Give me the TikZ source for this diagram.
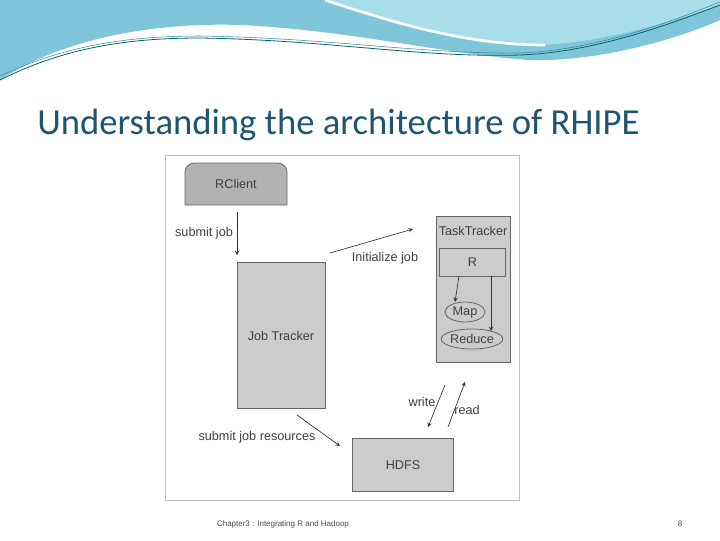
\documentclass[tikz,border=0pt]{standalone}
\usepackage{fontspec}
\usetikzlibrary{shapes.geometric}
\setmainfont{Carlito}
\newfontfamily\diag{Liberation Sans}
\definecolor{wavea}{HTML}{7FC6DA}
\definecolor{waveb}{HTML}{A8DEEA}
\definecolor{titlec}{HTML}{1F5573}
\begin{document}
\begin{tikzpicture}[x=0.75pt,y=-0.75pt,
  box/.style={draw=black!60,fill=black!20,line width=0.6pt,inner sep=0pt,text=black!75,font=\diag\fontsize{9.5}{10}\selectfont},
  lab/.style={font=\diag\fontsize{9.5}{10}\selectfont,text=black!75},
  arr/.style={->,line width=0.5pt,black!80,>=stealth}]
\useasboundingbox (0,0) rectangle (720,540);
\fill[white] (0,0) rectangle (720,540);
% header waves
\fill[wavea] (0,0) -- (0,80) .. controls (60,40) and (150,22) .. (240,25) .. controls (350,30) and (450,55) .. (530,60) .. controls (600,62) and (680,38) .. (720,20) -- (720,0) -- cycle;
\fill[waveb] (325,0) .. controls (400,25) and (470,45) .. (545,45) .. controls (620,40) and (690,15) .. (720,5) -- (720,0) -- cycle;
\draw[white,line width=2pt] (325,0) .. controls (400,25) and (470,45) .. (545,45);
\draw[teal!80!black,line width=0.6pt] (0,80) .. controls (60,50) and (120,38) .. (200,38) .. controls (330,40) and (420,58) .. (520,55) .. controls (600,52) and (680,20) .. (720,5);
\draw[cyan!60!black,line width=0.4pt] (0,76) .. controls (60,48) and (120,36) .. (200,36) .. controls (330,38) and (420,54) .. (520,53) .. controls (600,50) and (680,18) .. (720,2);
% title
\node[anchor=west,inner sep=0pt,font=\fontsize{27.5}{30}\selectfont,text=titlec] (title) at (37,125) {Understanding the architecture of RHIPE};
% frame
\draw[black!25,fill=white] (165,155) rectangle (519,500);
% nodes
\draw[box,fill=black!30] (185,205) [rounded corners=7pt]-- (185,163) -- (287,163) [sharp corners]-- (287,205) -- cycle;
\node[lab] (rc) at (236,184) {RClient};
\coordinate (rcb) at (237,212);
\node[box,minimum width=66pt,minimum height=109pt] (jt) at (281,335.5) {Job Tracker};
\node[box,minimum width=55.5pt,minimum height=109pt] (tt) at (473,289.5) {};
\node[lab,anchor=north] (ttl) at (473,222) {TaskTracker};
\node[box,minimum width=49pt,minimum height=21pt] (r) at (472.5,262) {R};
\node[box,ellipse,minimum width=30pt,minimum height=15pt] (map) at (465,312) {Map};
\node[box,ellipse,minimum width=43pt,minimum height=15pt] (red) at (472,339) {Reduce};
\node[box,minimum width=76pt,minimum height=40pt] (hdfs) at (403,465) {HDFS};
% connectors
\draw[arr] (rcb) -- (237,255);
\node[lab] (sj) at (204,233) {submit job};
\coordinate (ia) at (330,253); \coordinate (ib) at (413,229);
\draw[arr] (ia) -- (ib);
\node[lab] (ij) at (385,258) {Initialize job};
\draw[arr] (459,276) -- (455,302);
\draw[arr] (491,276) -- (491,331);
\coordinate (wa) at (445,385); \coordinate (wb) at (428,427);
\draw[arr] (wa) -- (wb);
\coordinate (ra) at (448,427); \coordinate (rb) at (465,382);
\draw[arr] (ra) -- (rb);
\node[lab] (wr) at (422,402) {write};
\node[lab] (rd) at (467,410) {read};
\coordinate (sa) at (297,415); \coordinate (sb) at (340,446);
\draw[arr] (sa) -- (sb);
\node[lab] (sjr) at (257,437) {submit job resources};
% footer
\node[font=\diag\fontsize{6}{7}\selectfont,text=black!70] (ft) at (283,524) {Chapter3 : Integrating R and Hadoop};
\node[font=\diag\fontsize{6}{7}\selectfont,text=black!70] (pg) at (680,524) {8};
\end{tikzpicture}
\end{document}
